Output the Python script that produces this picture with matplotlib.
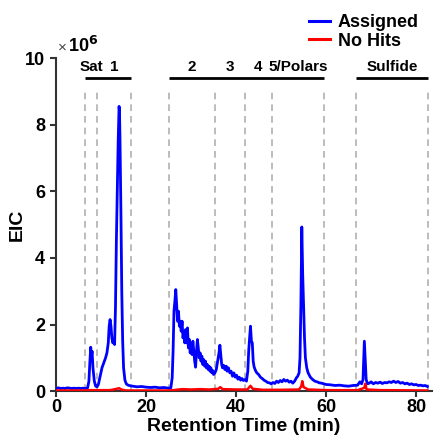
import matplotlib
matplotlib.use("Agg")
import matplotlib.pyplot as plt

plt.rcParams['font.family'] = ['Liberation Sans', 'DejaVu Sans']
plt.rcParams['font.weight'] = 'bold'

# Retention time (min) and EIC (x1e6) for the "Assigned" trace
assigned_t = [0.0, 0.5, 1.0, 1.5, 2.0, 2.5, 3.0, 3.5, 4.0, 4.5, 5.0, 5.5, 6.0, 6.5, 7.0, 7.3, 7.5, 7.7, 7.85, 8.0,
              8.2, 8.5, 8.8, 9.1, 9.4, 9.8, 10.2, 10.6, 11.0, 11.3, 11.6, 11.8, 12.0, 12.2, 12.4, 12.6, 12.8, 13.0, 13.2, 13.4,
              13.6, 13.8, 14.0, 14.1, 14.2, 14.4, 14.6, 14.8, 15.0, 15.3, 15.6, 16.0, 16.5, 17.0, 18, 19, 20, 21, 22, 23,
              24, 25, 25.5, 25.8, 26.0, 26.2, 26.4, 26.6, 26.8, 27.0, 27.2, 27.4, 27.6, 27.8, 28.0, 28.2, 28.4, 28.6, 28.8, 29.0,
              29.2, 29.4, 29.6, 29.8, 30.0, 30.2, 30.4, 30.6, 30.8, 31.0, 31.2, 31.4, 31.6, 31.8, 32.0, 32.2, 32.4, 32.6, 32.8, 33.0,
              33.2, 33.4, 33.6, 33.8, 34.0, 34.2, 34.4, 34.6, 34.8, 35.0, 35.3, 35.6, 35.9, 36.2, 36.4, 36.6, 36.8, 37.0, 37.2, 37.5,
              37.8, 38.0, 38.3, 38.6, 38.9, 39.2, 39.5, 39.8, 40.1, 40.4, 40.7, 41.0, 41.3, 41.6, 42.0, 42.3, 42.6, 42.8, 43.0, 43.2,
              43.4, 43.6, 43.8, 44.0, 44.3, 44.6, 45.0, 45.4, 45.8, 46.2, 46.6, 47.0, 47.4, 47.8, 48.2, 48.6, 49.0, 49.4, 49.8, 50.2,
              50.6, 51.0, 51.4, 51.8, 52.2, 52.6, 53.0, 53.4, 53.7, 54.0, 54.2, 54.4, 54.6, 54.8, 55.0, 55.2, 55.4, 55.7, 56.0, 56.5,
              57.0, 57.5, 58.0, 58.5, 59.0, 59.5, 60, 61, 62, 63, 64, 65, 66, 67, 67.5, 67.9, 68.2, 68.5, 68.7, 68.9,
              69.2, 69.6, 70, 70.5, 71, 71.5, 72, 72.5, 73, 73.5, 74, 74.5, 75, 75.5, 76, 76.5, 77, 77.5, 78, 78.5,
              79, 79.5, 80, 80.5, 81, 81.5, 82, 82.5]
assigned_v = [0.08, 0.10, 0.08, 0.09, 0.08, 0.10, 0.09, 0.08, 0.09, 0.08, 0.09, 0.08, 0.09, 0.08, 0.10, 0.30, 0.85, 1.32, 1.05, 1.20,
              0.70, 0.30, 0.15, 0.13, 0.20, 0.45, 0.70, 0.85, 1.00, 1.15, 1.45, 1.95, 2.15, 1.95, 1.60, 1.45, 1.50, 1.40, 2.5, 4.5,
              5.95, 7.5, 8.55, 8.40, 7.6, 5.5, 3.0, 1.5, 0.7, 0.33, 0.22, 0.18, 0.16, 0.15, 0.13, 0.14, 0.12, 0.11, 0.12, 0.10,
              0.11, 0.09, 0.10, 0.4, 1.2, 2.4, 2.7, 3.05, 2.6, 2.1, 2.4, 1.95, 2.1, 1.8, 2.1, 1.6, 1.75, 1.45, 1.85, 1.45,
              1.9, 1.3, 1.55, 1.15, 1.35, 1.1, 1.5, 1.2, 0.9, 0.72, 1.2, 1.55, 1.3, 1.0, 1.15, 0.9, 1.05, 0.8, 0.95, 0.75,
              0.9, 0.7, 0.8, 0.65, 0.75, 0.6, 0.7, 0.55, 0.62, 0.5, 0.55, 0.65, 0.9, 1.15, 1.38, 1.1, 0.8, 0.7, 0.78, 0.65,
              0.75, 0.6, 0.7, 0.55, 0.6, 0.45, 0.55, 0.42, 0.48, 0.36, 0.42, 0.33, 0.38, 0.32, 0.35, 0.30, 0.6, 1.2, 1.6, 1.95,
              1.5, 1.45, 0.9, 0.73, 0.62, 0.55, 0.5, 0.42, 0.38, 0.33, 0.30, 0.26, 0.25, 0.22, 0.26, 0.23, 0.30, 0.26, 0.32, 0.28,
              0.35, 0.30, 0.33, 0.27, 0.30, 0.24, 0.30, 0.40, 0.45, 0.55, 1.0, 2.6, 4.93, 3.5, 2.6, 1.6, 1.0, 0.7, 0.55, 0.42,
              0.35, 0.30, 0.28, 0.25, 0.24, 0.22, 0.20, 0.19, 0.17, 0.18, 0.16, 0.15, 0.17, 0.18, 0.28, 0.22, 0.35, 1.5, 0.9, 0.35,
              0.22, 0.24, 0.28, 0.22, 0.26, 0.24, 0.27, 0.23, 0.26, 0.25, 0.28, 0.26, 0.30, 0.26, 0.29, 0.24, 0.26, 0.22, 0.24, 0.20,
              0.22, 0.19, 0.20, 0.17, 0.18, 0.16, 0.17, 0.14]

# "No Hits" trace
nohits_t = [0, 6, 7.5, 12, 13.5, 14, 14.5, 15.5, 25, 26, 28, 30, 32, 34, 36, 36.5, 37, 40, 42.5, 43.2,
            43.7, 46, 50, 54, 54.5, 54.7, 55.0, 56, 60, 67, 68.5, 68.7, 69, 72, 82.5]
nohits_v = [0.02, 0.02, 0.03, 0.03, 0.07, 0.09, 0.05, 0.02, 0.02, 0.03, 0.06, 0.05, 0.06, 0.05, 0.07, 0.12, 0.06, 0.05, 0.05, 0.16,
            0.07, 0.04, 0.04, 0.05, 0.15, 0.30, 0.12, 0.05, 0.03, 0.03, 0.10, 0.22, 0.05, 0.03, 0.02]

# fraction boundaries (min)
boundaries = [6.4, 9.1, 16.6, 25.1, 35.3, 41.9, 47.9, 59.6, 66.7, 82.7]
fraction_labels = ["Sat", "1", "2", "3", "4", "5/Polars", "Sulfide"]
label_spans = [(6.4, 9.1), (9.1, 16.6), (25.1, 35.3), (35.3, 41.9), (41.9, 47.9), (47.9, 59.6), (66.7, 82.7)]
brackets = [(6.4, 16.6), (25.1, 59.6), (66.7, 82.7)]

fig = plt.figure(figsize=(4.38, 4.40), dpi=100)
ax = fig.add_axes([0.128, 0.111, 0.858, 0.757])

for b in boundaries:
    ax.plot([b, b], [0, 9.1], color='#b0b0b0', lw=1.2, ls=(0, (4, 3)), zorder=1)
for a, b in brackets:
    ax.plot([a, b], [9.4, 9.4], color='black', lw=2, solid_capstyle='butt', clip_on=False)
for lab, (a, b) in zip(fraction_labels, label_spans):
    ax.text((a + b) / 2, 9.52, lab, ha='center', va='bottom', fontsize=11, fontweight='bold')

ax.plot(assigned_t, assigned_v, color='#0000ff', lw=2.0, label='Assigned', zorder=3)
ax.plot(nohits_t, nohits_v, color='#ff0000', lw=1.8, label='No Hits', zorder=4)

ax.set_xlim(0, 83.5)
ax.set_ylim(0, 10)
ax.set_xticks([0, 20, 40, 60, 80])
ax.set_yticks([0, 2, 4, 6, 8, 10])
for s in ['top', 'right']:
    ax.spines[s].set_visible(False)
for s in ['left', 'bottom']:
    ax.spines[s].set_linewidth(1.5)
    ax.spines[s].set_color('#333333')
ax.tick_params(direction='out', length=4, width=1.5, labelsize=13, color='#333333', pad=2)
ax.tick_params(axis='y', pad=4)
for lbl in ax.get_xticklabels() + ax.get_yticklabels():
    lbl.set_fontweight('bold')

ax.set_xlabel('Retention Time (min)', fontsize=14, fontweight='bold', labelpad=1)
ax.set_ylabel('EIC', fontsize=14, fontweight='bold', labelpad=-1)
ax.text(0.005, 1.01, '\u00d7', transform=ax.transAxes, fontsize=11, fontweight='normal', color='#444444',
        va='bottom', ha='left')
ax.text(0.033, 1.005, '10$^{\\mathbf{6}}$', transform=ax.transAxes, fontsize=13, fontweight='bold', va='bottom', ha='left')

fig.legend(loc='upper right', bbox_to_anchor=(0.972, 0.985), frameon=False, fontsize=13,
           handlelength=1.2, handletextpad=0.4, labelspacing=0.1, borderaxespad=0)
leg = fig.legends[0]
for t in leg.get_texts():
    t.set_fontweight('bold')
for l in leg.get_lines():
    l.set_linewidth(2.2)

fig.savefig('out.png', dpi=100)
